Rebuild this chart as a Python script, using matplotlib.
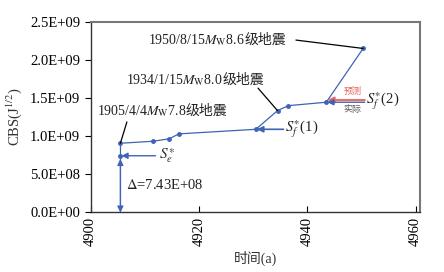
import matplotlib
matplotlib.use("Agg")
import matplotlib.pyplot as plt
from matplotlib.offsetbox import TextArea, HPacker, AnnotationBbox

plt.rcParams['font.family'] = ['Liberation Serif', 'Noto Sans CJK SC', 'DejaVu Sans']
plt.rcParams['mathtext.fontset'] = 'stix'

# data
years = [4905.5, 4911.5, 4914.5, 4916.3, 4930.5, 4934.5, 4936.5, 4943.5, 4950.3]
cbs = [0.907e9, 0.933e9, 0.965e9, 1.03e9, 1.09e9, 1.335e9, 1.40e9, 1.445e9, 2.15e9]
se_star = 7.43e8
sf1 = 1.09e9
sf2_actual = 1.445e9
sf2_pred = 1.474e9
x_ticks = [4900, 4920, 4940, 4960]
y_ticks = [0, 0.5e9, 1.0e9, 1.5e9, 2.0e9, 2.5e9]
y_tick_labels = ['0.0E+00', '5.0E+08', '1.0E+09', '1.5E+09', '2.0E+09', '2.5E+09']
quake_dates = ['1950/8/15', '1934/1/15', '1905/4/4']
quake_mags = ['8.6', '8.0', '7.8']
quake_idx = [8, 5, 0]

blue = '#3f63b5'
fig = plt.figure(figsize=(4.44, 2.72), dpi=100)
ax = fig.add_axes([0.204, 0.219, 0.742, 0.701])

ax.plot(years, cbs, color=blue, lw=0.9, marker='o', ms=2.5, zorder=3)
ax.plot([years[0], years[0]], [cbs[0], 0], color=blue, lw=0.9, zorder=2)
ax.plot([years[0]], [se_star], marker='o', ms=2.5, color=blue, zorder=3)
ax.annotate('', xy=(years[0], 0.0), xytext=(years[0], 0.70e9),
            arrowprops=dict(arrowstyle='<|-|>', color=blue, lw=0.9, mutation_scale=9,
                            shrinkA=0, shrinkB=0))

# Se* arrow
ax.annotate('', xy=(4905.7, se_star), xytext=(4912.0, se_star),
            arrowprops=dict(arrowstyle='-|>', color=blue, lw=1.0, mutation_scale=9,
                            shrinkA=0, shrinkB=0))
ax.text(4912.6, se_star, r'$S_e^{\ast}$', fontsize=11, va='center', ha='left', color='#333333')
ax.text(4906.6, 0.36e9, r'$\Delta$=7.43E+08', fontsize=10.5, va='center', ha='left', color='#222222')

# Sf*(1)
ax.annotate('', xy=(4930.7, sf1), xytext=(4935.6, sf1),
            arrowprops=dict(arrowstyle='-|>', color=blue, lw=1.2, mutation_scale=9,
                            shrinkA=0, shrinkB=0))
ax.text(4935.9, sf1, r'$S_f^{\ast}$(1)', fontsize=10.5, va='center', ha='left', color='#222222')

# Sf*(2)
ax.annotate('', xy=(4943.7, sf2_pred), xytext=(4950.6, sf2_pred),
            arrowprops=dict(arrowstyle='-|>', color='#ee6e66', lw=1.5, mutation_scale=9,
                            shrinkA=0, shrinkB=0))
ax.annotate('', xy=(4943.7, sf2_actual), xytext=(4950.6, sf2_actual),
            arrowprops=dict(arrowstyle='-|>', color=blue, lw=1.0, mutation_scale=9,
                            shrinkA=0, shrinkB=0))
ax.text(4950.9, 1.46e9, r'$S_f^{\ast}$(2)', fontsize=10.5, va='center', ha='left', color='#222222')
ax.text(4948.3, 1.58e9, '预测', fontsize=6.5, va='center', ha='center', color='#e8605a')
ax.text(4948.3, 1.35e9, '实际', fontsize=6.5, va='center', ha='center', color='#555555')

# earthquake labels
label_pos = [(4923.3, 2.26e9), (4919.3, 1.74e9), (4913.2, 1.33e9)]
leader_start = [(4937.9, 2.26e9), (4930.9, 1.63e9), (4906.7, 1.186e9)]
tp = dict(fontsize=10, color='#222222')
for d, m, i, pos, st in zip(quake_dates, quake_mags, quake_idx, label_pos, leader_start):
    t1 = TextArea(d + r'$M_\mathrm{W}$' + m, textprops=tp)
    t2 = TextArea('级地震', textprops=dict(fontsize=10, color='#222222',
                                          family=['Noto Sans CJK SC']))
    box = HPacker(children=[t1, t2], pad=0, sep=0, align='baseline')
    ab = AnnotationBbox(box, pos, xycoords='data', frameon=False, pad=0)
    ax.add_artist(ab)
    ax.annotate('', xy=(years[i], cbs[i]), xytext=st,
                arrowprops=dict(arrowstyle='-', color='black', lw=0.9, shrinkA=0, shrinkB=0))

ax.set_xlim(4900, 4960.8)
ax.set_ylim(0, 2.5e9)
ax.set_xticks(x_ticks)
ax.set_xticklabels([str(t) for t in x_ticks], rotation=90, fontsize=10.5)
ax.set_yticks(y_ticks)
ax.set_yticklabels(y_tick_labels, fontsize=10.5)
ax.tick_params(axis='x', direction='in', length=4, pad=3)
ax.tick_params(axis='y', direction='out', length=4)
for s in ['top', 'right']:
    ax.spines[s].set_color('#777777')
    ax.spines[s].set_linewidth(1.5)
for s in ['left', 'bottom']:
    ax.spines[s].set_color('#333333')
    ax.spines[s].set_linewidth(1.0)

ax.set_ylabel(r'CBS(J$^{1/2}$)', fontsize=10.5, color='#333333', labelpad=4)
ax.set_xlabel('时间(a)', fontsize=10, color='#333333', labelpad=4)

fig.savefig('out.png', dpi=100, facecolor='white')
